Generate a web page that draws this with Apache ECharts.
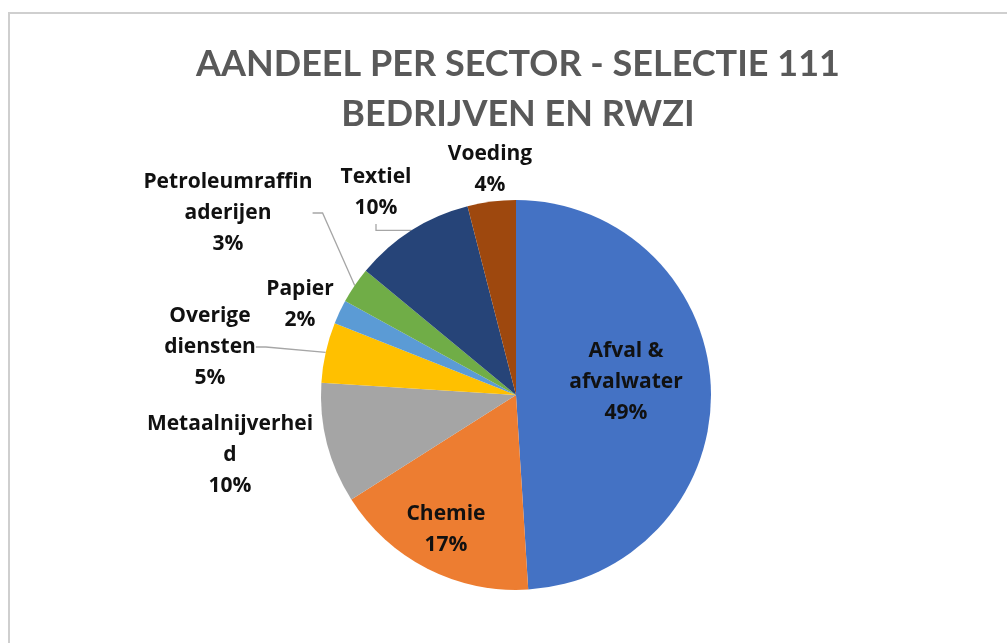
<!DOCTYPE html>
<html>
<head>
<meta charset="utf-8">
<script src="https://cdn.jsdelivr.net/npm/echarts@6/dist/echarts.min.js"></script>
<style>
  html, body { margin: 0; padding: 0; background: #ffffff; }
  #chart { width: 1007px; height: 643px; }
</style>
</head>
<body>
<div id="chart"></div>
<script>
// Sector names (line breaks as shown in the labels) and their share in percent
const categories = [
  'Afval &\nafvalwater',
  'Chemie',
  'Metaalnijverhei\nd',
  'Overige\ndiensten',
  'Papier',
  'Petroleumraffin\naderijen',
  'Textiel',
  'Voeding'
];
const shares = [49, 17, 10, 5, 2, 3, 10, 4];

const sliceColors = ['#4472C4', '#ED7D31', '#A5A5A5', '#FFC000', '#5B9BD5', '#70AD47', '#264478', '#9E480E'];

// Label anchor points (centre of each text block) and leader-line visibility
const labelSpots = [
  [626, 382], [446, 530], [230, 455], [210, 347],
  [300, 305], [228, 213], [376, 193], [490, 170]
];
const showLeader = [false, false, false, true, false, true, true, false];

const chart = echarts.init(document.getElementById('chart'), null, { renderer: 'canvas' });

const data = categories.map((name, i) => ({
  name: name,
  value: shares[i],
  itemStyle: { color: sliceColors[i] },
  labelLine: { show: showLeader[i] }
}));

chart.setOption({
  backgroundColor: '#ffffff',
  animation: false,
  title: {
    text: 'AANDEEL PER SECTOR - SELECTIE 111\nBEDRIJVEN EN RWZI',
    left: 513,
    top: 34,
    textAlign: 'center',
    textStyle: {
      fontFamily: 'Lato',
      fontWeight: 'bold',
      fontSize: 36,
      lineHeight: 50,
      color: '#595959'
    }
  },
  graphic: [{
    type: 'rect',
    shape: { x: 9, y: 13, width: 1100, height: 700 },
    style: { fill: 'none', stroke: '#cfcfcf', lineWidth: 2 },
    z: 100,
    silent: true
  }],
  series: [{
    type: 'pie',
    center: [516, 395],
    radius: [0, 195],
    startAngle: 90,
    clockwise: true,
    avoidLabelOverlap: false,
    itemStyle: { borderWidth: 0 },
    label: {
      show: true,
      position: 'outside',
      formatter: '{b}\n{c}%',
      fontFamily: 'Open Sans',
      fontWeight: 'bold',
      fontSize: 21,
      lineHeight: 31,
      color: '#111111',
      align: 'center'
    },
    labelLine: {
      show: true,
      length: 15,
      length2: 10,
      lineStyle: { color: '#a6a6a6', width: 1.3 }
    },
    labelLayout: function (params) {
      const p = labelSpots[params.dataIndex];
      return { x: p[0], y: p[1], align: 'center', verticalAlign: 'middle' };
    },
    data: data
  }]
});
</script>
</body>
</html>
